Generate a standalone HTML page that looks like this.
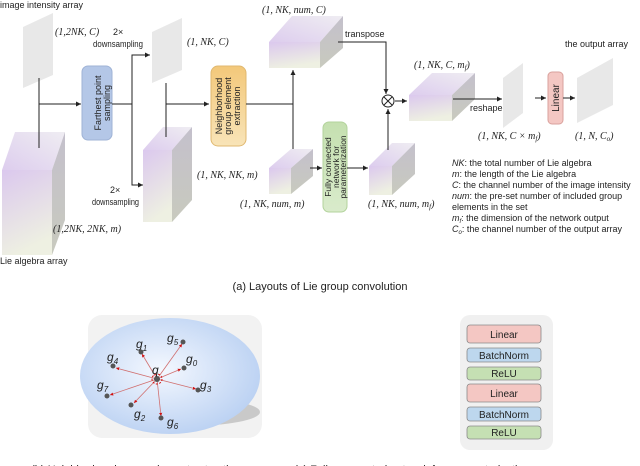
<!DOCTYPE html>
<html><head><meta charset="utf-8"><style>
html,body{margin:0;padding:0;background:#fff;}
svg{display:block;}
text{font-family:"Liberation Sans",sans-serif;fill:#222;}
.m{font-family:"Liberation Serif",serif;font-style:italic;font-size:10px;}
.s{font-size:9px;}
</style></head><body>
<svg width="640" height="466" viewBox="0 0 640 466" xmlns="http://www.w3.org/2000/svg">
<defs>
<linearGradient id="fr" x1="0" y1="0" x2="0.3" y2="1"><stop offset="0" stop-color="#dbc8ee"/><stop offset="1" stop-color="#eef0e2"/></linearGradient>
<linearGradient id="tp" x1="0" y1="1" x2="1" y2="0"><stop offset="0" stop-color="#ddcdee"/><stop offset="1" stop-color="#efedf2"/></linearGradient>
<linearGradient id="sd" x1="0" y1="0" x2="0" y2="1"><stop offset="0" stop-color="#c4c0cc"/><stop offset="1" stop-color="#c8cabe"/></linearGradient>
<linearGradient id="or" x1="0" y1="0" x2="0" y2="1"><stop offset="0" stop-color="#f3c87a"/><stop offset="1" stop-color="#f8e4b8"/></linearGradient>
<linearGradient id="gr" x1="0" y1="0" x2="0" y2="1"><stop offset="0" stop-color="#c5e0b0"/><stop offset="1" stop-color="#d9ebcb"/></linearGradient>
<radialGradient id="el" cx="0.45" cy="0.45" r="0.6"><stop offset="0" stop-color="#f4f8ff"/><stop offset="1" stop-color="#b9d0f2"/></radialGradient>
<marker id="a" markerWidth="6" markerHeight="6" refX="5" refY="3" orient="auto"><path d="M0,0.5 L5,3 L0,5.5z" fill="#222"/></marker>
<marker id="r" markerWidth="5" markerHeight="5" refX="4" refY="2.5" orient="auto"><path d="M0,0.5 L4,2.5 L0,4.5z" fill="#d01010"/></marker>
</defs>

<text x="0" y="8" class="s">image intensity array</text>
<polygon points="23,27 53,13 53,75 23,88" fill="#e8e8e8"/>
<text x="55" y="35" class="m">(1,2NK, C)</text>
<polygon points="2,170 52,170 52,255 2,255" fill="url(#fr)"/>
<polygon points="2,170 15,132 65,132 52,170" fill="url(#tp)"/>
<polygon points="52,170 65,132 65,220 52,255" fill="url(#sd)"/>
<text x="53" y="232" class="m">(1,2NK, 2NK, m)</text>
<text x="0" y="264" class="s">Lie algebra array</text>
<line x1="39" y1="78" x2="39" y2="148" stroke="#222" stroke-width="1"/>
<line x1="39" y1="104" x2="81" y2="104" stroke="#222" marker-end="url(#a)"/>
<rect x="82" y="66" width="30" height="74" rx="6" fill="#b4c7e7" stroke="#9fb3d6"/>
<text transform="translate(101,103) rotate(-90)" text-anchor="middle" font-size="9" fill="#555">Farthest point</text>
<text transform="translate(110,103) rotate(-90)" text-anchor="middle" font-size="9" fill="#555">sampling</text>
<line x1="112" y1="104" x2="132" y2="104" stroke="#222"/>
<polyline points="150,55 132,55 132,185 142,185" fill="none" stroke="#222"/>
<line x1="140" y1="55" x2="150" y2="55" stroke="#222" marker-end="url(#a)"/>
<line x1="136" y1="185" x2="143" y2="185" stroke="#222" marker-end="url(#a)"/>
<text x="113" y="35" class="s">2×</text><text x="93" y="47" class="s" textLength="50" lengthAdjust="spacingAndGlyphs">downsampling</text>
<text x="110" y="193" class="s">2×</text><text x="92" y="205" class="s" textLength="47" lengthAdjust="spacingAndGlyphs">downsampling</text>
<polygon points="152,32 182,18 182,70 152,83" fill="#e8e8e8"/>
<text x="187" y="45" class="m">(1, NK, C)</text>
<polygon points="143,150 172,150 172,222 143,222" fill="url(#fr)"/>
<polygon points="143,150 163,127 192,127 172,150" fill="url(#tp)"/>
<polygon points="172,150 192,127 192,200 172,222" fill="url(#sd)"/>
<line x1="166" y1="83" x2="166" y2="137" stroke="#222"/>
<line x1="166" y1="104" x2="209" y2="104" stroke="#222" marker-end="url(#a)"/>
<rect x="211" y="66" width="35" height="80" rx="7" fill="url(#or)" stroke="#e0b870"/>
<text transform="translate(222,106) rotate(-90)" text-anchor="middle" font-size="9" fill="#555">Neighborhood</text>
<text transform="translate(231,106) rotate(-90)" text-anchor="middle" font-size="9" fill="#555">group element</text>
<text transform="translate(240,106) rotate(-90)" text-anchor="middle" font-size="9" fill="#555">extraction</text>
<text x="197" y="178" class="m">(1, NK, NK, m)</text>
<line x1="246" y1="104" x2="293" y2="104" stroke="#222"/>
<line x1="293" y1="104" x2="293" y2="70" stroke="#222" marker-end="url(#a)"/>
<line x1="293" y1="104" x2="293" y2="161" stroke="#222" marker-end="url(#a)"/>
<polygon points="269,42 320,42 320,68 269,68" fill="url(#fr)"/>
<polygon points="269,42 292,16 343,16 320,42" fill="url(#tp)"/>
<polygon points="320,42 343,16 343,48 320,68" fill="url(#sd)"/>
<text x="262" y="13" class="m">(1, NK, num, C)</text>
<text x="345" y="37" class="s">transpose</text>
<polyline points="338,42 386,42 386,94" fill="none" stroke="#222" marker-end="url(#a)"/>
<polygon points="269,168 291,168 291,194 269,194" fill="url(#fr)"/>
<polygon points="269,168 291,149 313,149 291,168" fill="url(#tp)"/>
<polygon points="291,168 313,149 313,176 291,194" fill="url(#sd)"/>
<text x="240" y="207" class="m">(1, NK, num, m)</text>
<line x1="310" y1="168" x2="322" y2="168" stroke="#222" marker-end="url(#a)"/>
<rect x="323" y="122" width="24" height="90" rx="6" fill="url(#gr)" stroke="#b3d39c"/>
<text transform="translate(331,167) rotate(-90)" text-anchor="middle" font-size="8.5" fill="#555">Fully connected</text>
<text transform="translate(339,167) rotate(-90)" text-anchor="middle" font-size="8.5" fill="#555">network for</text>
<text transform="translate(346,167) rotate(-90)" text-anchor="middle" font-size="8.5" fill="#555">parameterization</text>
<line x1="347" y1="168" x2="368" y2="168" stroke="#222" marker-end="url(#a)"/>
<polygon points="369,166 392,166 392,195 369,195" fill="url(#fr)"/>
<polygon points="369,166 392,143 415,143 392,166" fill="url(#tp)"/>
<polygon points="392,166 415,143 415,174 392,195" fill="url(#sd)"/>
<text x="368" y="207" class="m">(1, NK, num, m<tspan font-size="7" dy="2">f</tspan><tspan dy="-2">)</tspan></text>
<line x1="388" y1="150" x2="388" y2="109" stroke="#222" marker-end="url(#a)"/>
<circle cx="388" cy="101" r="6" fill="#fff" stroke="#222"/>
<line x1="384" y1="97" x2="392" y2="105" stroke="#222"/><line x1="392" y1="97" x2="384" y2="105" stroke="#222"/>
<line x1="395" y1="101" x2="407" y2="101" stroke="#222" marker-end="url(#a)"/>
<polygon points="409,95 452,95 452,121 409,121" fill="url(#fr)"/>
<polygon points="409,95 432,73 475,73 452,95" fill="url(#tp)"/>
<polygon points="452,95 475,73 475,99 452,121" fill="url(#sd)"/>
<text x="414" y="68" class="m">(1, NK, C, m<tspan font-size="7" dy="2">f</tspan><tspan dy="-2">)</tspan></text>
<line x1="453" y1="99" x2="502" y2="99" stroke="#222" marker-end="url(#a)"/>
<text x="470" y="111" class="s">reshape</text>
<polygon points="503,78 523,63 523,113 503,128" fill="#e8e8e8"/>
<text x="478" y="139" class="m">(1, NK, C × m<tspan font-size="7" dy="2">f</tspan><tspan dy="-2">)</tspan></text>
<line x1="535" y1="98" x2="546" y2="98" stroke="#222" marker-end="url(#a)"/>
<rect x="548" y="72" width="15" height="52" rx="4" fill="#f4c7c3" stroke="#d9a19c"/>
<text transform="translate(559,98) rotate(-90)" text-anchor="middle" font-size="10" fill="#555">Linear</text>
<line x1="563" y1="98" x2="575" y2="98" stroke="#222" marker-end="url(#a)"/>
<polygon points="577,78 613,58 613,105 577,123" fill="#e8e8e8"/>
<text x="565" y="47" class="s">the output array</text>
<text x="575" y="139" class="m">(1, N, C<tspan font-size="7" dy="2">o</tspan><tspan dy="-2">)</tspan></text>
<g font-size="9">
<text x="452" y="166"><tspan font-style="italic">NK</tspan>: the total number of Lie algebra</text>
<text x="452" y="177"><tspan font-style="italic">m</tspan>: the length of the Lie algebra</text>
<text x="452" y="188"><tspan font-style="italic">C</tspan>: the channel number of the image intensity</text>
<text x="452" y="199"><tspan font-style="italic">num</tspan>: the pre-set number of included group</text>
<text x="452" y="210">elements in the set</text>
<text x="452" y="221"><tspan font-style="italic">m<tspan font-size="6" dy="2">f</tspan></tspan><tspan dy="-2">: the dimension of the network output</tspan></text>
<text x="452" y="232"><tspan font-style="italic">C<tspan font-size="6" dy="2">o</tspan></tspan><tspan dy="-2">: the channel number of the output array</tspan></text>
</g>
<text x="320" y="290" text-anchor="middle" font-size="11">(a) Layouts of Lie group convolution</text>

<rect x="88" y="315" width="174" height="123" rx="14" fill="#f2f2f2"/>
<ellipse cx="188" cy="412" rx="72" ry="14" fill="#b8b8b8" opacity="0.7"/>
<ellipse cx="170" cy="376" rx="90" ry="58" fill="url(#el)"/>
<g stroke="#d07070" stroke-width="0.8" marker-end="url(#r)">
<line x1="157" y1="379" x2="142" y2="354"/><line x1="157" y1="379" x2="182" y2="344"/>
<line x1="157" y1="379" x2="181" y2="369"/><line x1="157" y1="379" x2="116" y2="368"/>
<line x1="157" y1="379" x2="110" y2="395"/><line x1="157" y1="379" x2="196" y2="389"/>
<line x1="157" y1="379" x2="134" y2="403"/><line x1="157" y1="379" x2="161" y2="416"/>
</g>
<circle cx="157" cy="379" r="5" fill="none" stroke="#d01010" stroke-dasharray="2 1.5"/>
<g fill="#555">
<circle cx="157" cy="379" r="3"/><circle cx="141" cy="352" r="2.5"/><circle cx="183" cy="342" r="2.5"/><circle cx="184" cy="368" r="2.5"/>
<circle cx="113" cy="366" r="2.5"/><circle cx="107" cy="396" r="2.5"/><circle cx="198" cy="390" r="2.5"/><circle cx="131" cy="405" r="2.5"/><circle cx="161" cy="418" r="2.5"/>
</g>
<g font-family="Liberation Serif,serif" font-style="italic" font-size="12">
<text x="152" y="374">q</text>
<text x="136" y="348">g<tspan font-size="8" dy="3">1</tspan></text>
<text x="167" y="342">g<tspan font-size="8" dy="3">5</tspan></text>
<text x="186" y="363">g<tspan font-size="8" dy="3">0</tspan></text>
<text x="107" y="361">g<tspan font-size="8" dy="3">4</tspan></text>
<text x="97" y="389">g<tspan font-size="8" dy="3">7</tspan></text>
<text x="200" y="389">g<tspan font-size="8" dy="3">3</tspan></text>
<text x="134" y="418">g<tspan font-size="8" dy="3">2</tspan></text>
<text x="167" y="426">g<tspan font-size="8" dy="3">6</tspan></text>
</g>

<rect x="460" y="315" width="93" height="135" rx="10" fill="#f0f0f0"/>
<g stroke="#8a8a8a" stroke-width="0.8">
<rect x="467" y="325" width="74" height="18" rx="3" fill="#f4c7c3"/>
<rect x="467" y="348" width="74" height="14" rx="3" fill="#bdd7ee"/>
<rect x="467" y="367" width="74" height="13" rx="3" fill="#c5e0b3"/>
<rect x="467" y="384" width="74" height="18" rx="3" fill="#f4c7c3"/>
<rect x="467" y="407" width="74" height="14" rx="3" fill="#bdd7ee"/>
<rect x="467" y="426" width="74" height="13" rx="3" fill="#c5e0b3"/>
</g>
<g font-size="10" text-anchor="middle">
<text x="504" y="338" fill="#555">Linear</text>
<text x="504" y="359" fill="#555">BatchNorm</text>
<text x="504" y="377" fill="#555">ReLU</text>
<text x="504" y="397" fill="#555">Linear</text>
<text x="504" y="418" fill="#555">BatchNorm</text>
<text x="504" y="436" fill="#555">ReLU</text>
</g>
<text x="136" y="473" text-anchor="middle" font-size="11">(b) Neighborhood group element extraction</text>
<text x="412" y="473" text-anchor="middle" font-size="11">(c) Fully connected network for parameterization</text>
</svg>
</body></html>
